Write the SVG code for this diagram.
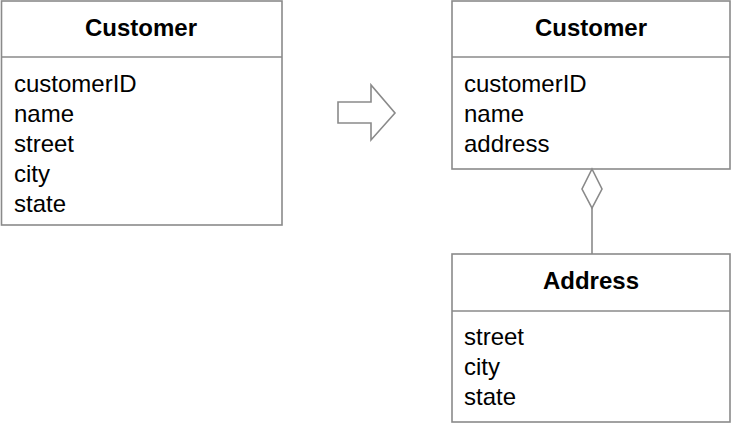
<svg xmlns="http://www.w3.org/2000/svg" width="734" height="424" viewBox="0 0 734 424">
<style>
.box{fill:#fff;stroke:#8a8a8a;stroke-width:1.6}
.ln{stroke:#8a8a8a;stroke-width:1.6;fill:none}
.t{font-family:"Liberation Sans",Arial,sans-serif;font-size:24px;fill:#000}
.h{font-family:"Liberation Sans",Arial,sans-serif;font-size:24px;font-weight:bold;fill:#000;text-anchor:middle}
</style>
<rect width="734" height="424" fill="#fff"/>
<g id="customer-before">
<rect class="box" x="1.5" y="1" width="280.5" height="224"/>
<line class="ln" x1="1.5" y1="57" x2="282" y2="57"/>
<text class="h" x="141" y="36">Customer</text>
<text class="t" x="14" y="92">customerID</text>
<text class="t" x="14" y="122">name</text>
<text class="t" x="14" y="152">street</text>
<text class="t" x="14" y="182">city</text>
<text class="t" x="14" y="212">state</text>
</g>
<g id="transform-arrow">
<polygon class="ln" points="338,102 371,102 371,85 395,113 371,140 371,123 338,123"/>
</g>
<g id="customer-after">
<rect class="box" x="452" y="1" width="278" height="168"/>
<line class="ln" x1="452" y1="57" x2="730" y2="57"/>
<text class="h" x="591" y="36">Customer</text>
<text class="t" x="464" y="92">customerID</text>
<text class="t" x="464" y="122">name</text>
<text class="t" x="464" y="152">address</text>
</g>
<g id="address">
<rect class="box" x="452" y="254" width="278" height="168"/>
<line class="ln" x1="452" y1="311" x2="730" y2="311"/>
<text class="h" x="591" y="289">Address</text>
<text class="t" x="464" y="345">street</text>
<text class="t" x="464" y="375">city</text>
<text class="t" x="464" y="405">state</text>
</g>
<g id="connectors">
<polygon class="ln" points="592,169 602,189 592,208 582,189"/>
<line class="ln" x1="592" y1="208" x2="592" y2="254"/>
</g>
</svg>
